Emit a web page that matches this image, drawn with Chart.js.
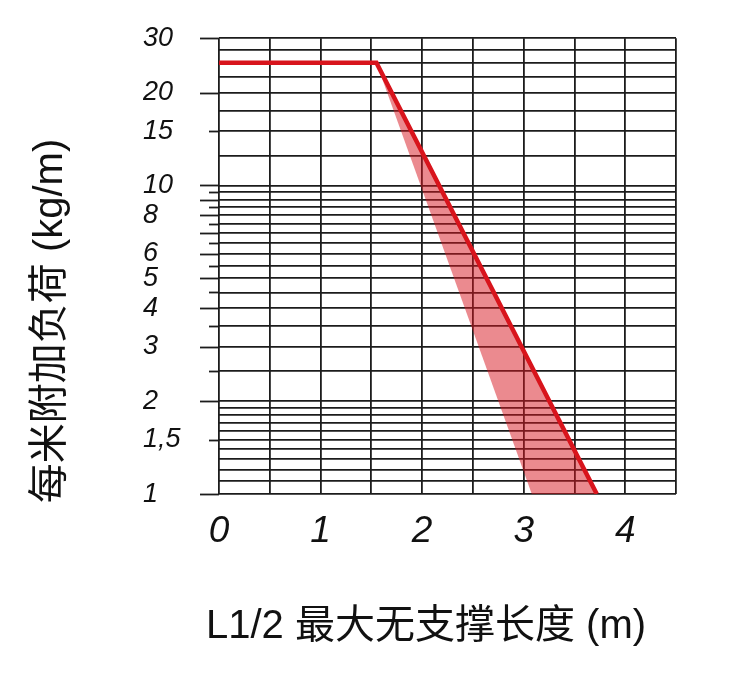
<!DOCTYPE html>
<html>
<head>
<meta charset="utf-8">
<script src="https://cdn.jsdelivr.net/npm/chart.js@4/dist/chart.umd.min.js"></script>
<style>
  html, body { margin: 0; padding: 0; background: #ffffff; }
  #wrap { width: 750px; height: 675px; }
</style>
</head>
<body>
<div id="wrap"><canvas id="c" width="750" height="675"></canvas></div>
<script>
// ---- data ----
const loadLineX = [0, 1.55, 3.72];
const loadLineY = [25, 25, 1];
const bandX = [1.55, 3.08, 3.72];
const bandY = [25, 1, 1];

const xGridValues = [0, 0.5, 1, 1.5, 2, 2.5, 3, 3.5, 4, 4.5];
const xLabelValues = [0, 1, 2, 3, 4];

const yGridValues = [1, 1.1, 1.2, 1.3, 1.4, 1.5, 1.6, 1.7, 1.8, 1.9, 2,
  2.5, 3, 3.5, 4, 4.5, 5, 5.5, 6, 6.5, 7, 7.5, 8, 8.5, 9, 9.5, 10,
  12.5, 15, 17.5, 20, 22.5, 25, 27.5, 30];
const yLabelValues = [1, 1.5, 2, 3, 4, 5, 6, 8, 10, 15, 20, 30];
const yLabelTexts  = ['1', '1,5', '2', '3', '4', '5', '6', '8', '10', '15', '20', '30'];
const yLongTicks  = [1, 2, 3, 4, 5, 6, 7, 8, 9, 10, 20, 30];
const yShortTicks = [1.5, 2.5, 3.5, 4.5, 5.5, 6.5, 7.5, 8.5, 9.5, 15];

const xTitle = 'L1/2 最大无支撑长度 (m)';
const yTitle = '每米附加负荷 (kg/m)';

// ---- styling ----
const FONT = "'Liberation Sans', Arial, 'Noto Sans CJK SC', sans-serif";
const NARROW = "'Liberation Sans Narrow', 'Arial Narrow', 'Liberation Sans', sans-serif";
const GRID = '#1c1c1c';
const GW = 1.8;

const decor = {
  id: 'decor',
  afterDraw(chart) {
    const { ctx, chartArea, scales } = chart;
    const y = scales.y;
    ctx.save();
    ctx.strokeStyle = GRID;
    ctx.lineWidth = GW;
    const tick = (v, len) => {
      const py = Math.round(y.getPixelForValue(v)) + 0.5;
      ctx.beginPath();
      ctx.moveTo(chartArea.left - len, py);
      ctx.lineTo(chartArea.left, py);
      ctx.stroke();
    };
    yLongTicks.forEach(v => tick(v, 19));
    yShortTicks.forEach(v => tick(v, 10));

    ctx.fillStyle = '#111';
    ctx.textAlign = 'left';
    ctx.textBaseline = 'middle';
    ctx.font = "40px " + FONT;
    ctx.fillText(xTitle, 206, 627);

    ctx.textAlign = 'center';
    ctx.translate(51, 321);
    ctx.rotate(-Math.PI / 2);
    ctx.fillText(yTitle, 0, 0);
    ctx.restore();
  }
};

new Chart(document.getElementById('c'), {
  type: 'line',
  data: {
    datasets: [
      {
        label: 'load',
        data: loadLineX.map((x, i) => ({ x: x, y: loadLineY[i] })),
        borderColor: '#d8141c',
        borderWidth: 4.5,
        pointRadius: 0,
        fill: false,
        tension: 0,
        order: 0,
        borderCapStyle: 'butt',
        borderJoinStyle: 'miter'
      },
      {
        label: 'band',
        data: bandX.map((x, i) => ({ x: x, y: bandY[i] })),
        borderWidth: 0,
        borderColor: 'rgba(0,0,0,0)',
        backgroundColor: 'rgba(215,22,32,0.5)',
        pointRadius: 0,
        fill: 'shape',
        tension: 0,
        order: 1
      }
    ]
  },
  options: {
    responsive: false,
    animation: false,
    devicePixelRatio: 1,
    layout: { padding: { top: 38, right: 74, left: 143, bottom: 0 } },
    plugins: { legend: { display: false }, tooltip: { enabled: false }, title: { display: false } },
    scales: {
      x: {
        type: 'linear',
        min: 0, max: 4.5,
        border: { display: false },
        grid: { color: GRID, lineWidth: GW, drawTicks: false },
        afterBuildTicks: s => { s.ticks = xGridValues.map(v => ({ value: v })); },
        afterFit: s => { s.height = 181; },
        ticks: {
          autoSkip: false,
          maxRotation: 0,
          padding: 16,
          color: '#111',
          font: { family: NARROW, size: 37, style: 'italic' },
          callback: v => xLabelValues.includes(v) ? String(v) : ''
        }
      },
      y: {
        type: 'logarithmic',
        min: 1, max: 30,
        border: { display: false },
        grid: { color: GRID, lineWidth: GW, drawTicks: false },
        afterBuildTicks: s => { s.ticks = yGridValues.map(v => ({ value: v })); },
        afterFit: s => { s.width = 76; },
        ticks: {
          autoSkip: false,
          padding: 22,
          crossAlign: 'far',
          color: '#111',
          font: { family: NARROW, size: 27, style: 'italic' },
          callback: v => {
            const i = yLabelValues.indexOf(v);
            return i >= 0 ? yLabelTexts[i] : '';
          }
        }
      }
    }
  },
  plugins: [decor]
});
</script>
</body>
</html>
